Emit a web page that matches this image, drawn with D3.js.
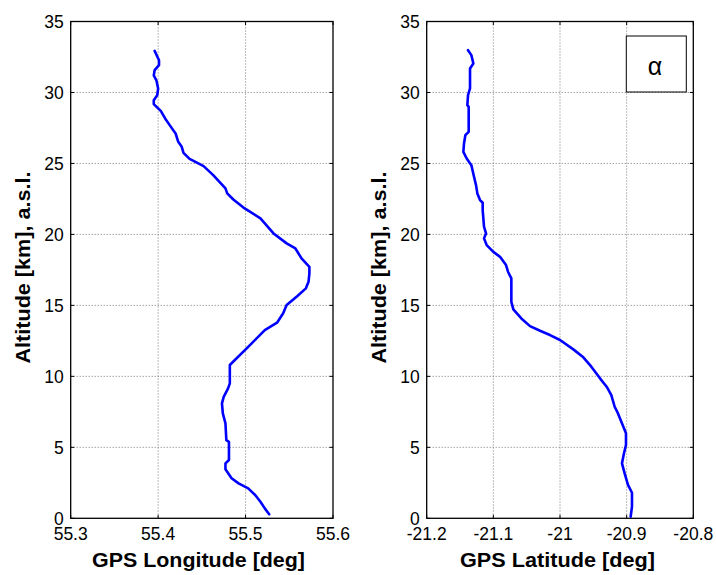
<!DOCTYPE html>
<html>
<head>
<meta charset="utf-8">
<script src="https://cdn.jsdelivr.net/npm/d3@7"></script>
<style>
  html, body { margin: 0; padding: 0; background: #fff; }
  svg { display: block; font-family: "Liberation Sans", Arial, sans-serif; }
</style>
</head>
<body>
<svg id="chart" width="716" height="575"></svg>
<script>
// Balloon GPS track: altitude (km) against longitude / latitude (deg)
const lonAlt = [32.93,32.27,31.92,31.57,31.2,30.86,30.28,29.81,29.46,29.18,28.7,28.17,27.63,27.11,26.52,26.17,25.75,25.32,24.81,24.18,23.24,22.89,22.46,21.83,21.13,20.07,19.37,19.01,18.31,17.72,17.25,16.66,16.2,15.65,15.02,14.44,13.78,13.26,12.2,10.8,9.51,9.15,8.56,8.1,7.39,6.69,5.51,5.39,4.11,3.87,3.45,2.82,2.46,2.11,1.64,1.17,0.7,0.28];
const lonDeg = [55.396,55.401,55.401,55.396,55.395,55.398,55.400,55.399,55.395,55.395,55.403,55.408,55.414,55.420,55.423,55.427,55.429,55.436,55.452,55.463,55.477,55.479,55.486,55.499,55.517,55.532,55.547,55.557,55.564,55.573,55.573,55.572,55.569,55.559,55.547,55.543,55.536,55.522,55.505,55.482,55.482,55.480,55.475,55.473,55.474,55.477,55.478,55.481,55.481,55.477,55.477,55.484,55.492,55.503,55.511,55.517,55.522,55.527];

const latAlt = [32.98,32.63,32.04,31.69,30.28,29.81,29.11,28.99,27.23,26.99,26.41,25.82,25.35,24.88,24.06,23.47,22.89,22.42,22.23,21.71,20.54,20.07,19.72,19.25,18.77,18.42,17.84,17.37,16.9,15.25,14.72,14.08,13.54,13.21,12.91,12.56,11.9,11.34,10.68,9.86,9.27,8.68,7.86,7.39,6.57,5.99,5.16,4.58,3.87,3.17,2.35,1.8,0.82,0.11];
const latDeg = [-21.138,-21.133,-21.130,-21.135,-21.135,-21.138,-21.139,-21.137,-21.137,-21.142,-21.144,-21.145,-21.140,-21.133,-21.129,-21.126,-21.124,-21.120,-21.116,-21.116,-21.114,-21.111,-21.114,-21.110,-21.100,-21.090,-21.081,-21.078,-21.073,-21.073,-21.070,-21.058,-21.045,-21.030,-21.015,-21.000,-20.980,-20.965,-20.953,-20.940,-20.930,-20.923,-20.918,-20.913,-20.906,-20.901,-20.901,-20.904,-20.907,-20.903,-20.898,-20.892,-20.892,-20.894];

const altTicks = [0,5,10,15,20,25,30,35];
const lonTicks = [55.3,55.4,55.5,55.6];
const latTicks = [-21.2,-21.1,-21.0,-20.9,-20.8];
const lonTickLabels = ["55.3","55.4","55.5","55.6"];
const latTickLabels = ["-21.2","-21.1","-21","-20.9","-20.8"];

const svg = d3.select("#chart");
const plotTop = 21.5, plotBottom = 518.3;

function panel(opts) {
  const x = d3.scaleLinear().domain(opts.xDomain).range([opts.left, opts.right]);
  const y = d3.scaleLinear().domain([0, 35]).range([plotBottom, plotTop]);
  const g = svg.append("g");

  // dotted grid
  g.append("g").selectAll("line").data(opts.xTicks.slice(1, -1)).join("line")
    .attr("x1", d => x(d)).attr("x2", d => x(d))
    .attr("y1", plotTop).attr("y2", plotBottom)
    .attr("stroke", "#666").attr("stroke-width", 0.9).attr("stroke-dasharray", "1,2");
  g.append("g").selectAll("line").data(altTicks.slice(1, -1)).join("line")
    .attr("x1", opts.left).attr("x2", opts.right)
    .attr("y1", d => y(d)).attr("y2", d => y(d))
    .attr("stroke", "#666").attr("stroke-width", 0.9).attr("stroke-dasharray", "1,2");

  // inward tick marks on all four sides
  const tl = 3.5;
  const tk = g.append("g").attr("stroke", "#000").attr("stroke-width", 1);
  opts.xTicks.forEach(d => {
    tk.append("line").attr("x1", x(d)).attr("x2", x(d)).attr("y1", plotBottom).attr("y2", plotBottom - tl);
    tk.append("line").attr("x1", x(d)).attr("x2", x(d)).attr("y1", plotTop).attr("y2", plotTop + tl);
  });
  altTicks.forEach(d => {
    tk.append("line").attr("x1", opts.left).attr("x2", opts.left + tl).attr("y1", y(d)).attr("y2", y(d));
    tk.append("line").attr("x1", opts.right).attr("x2", opts.right - tl).attr("y1", y(d)).attr("y2", y(d));
  });

  // frame
  g.append("rect").attr("x", opts.left).attr("y", plotTop)
    .attr("width", opts.right - opts.left).attr("height", plotBottom - plotTop)
    .attr("fill", "none").attr("stroke", "#000").attr("stroke-width", 1.3);

  // track line
  const pts = opts.alt.map((a, i) => [opts.deg[i], a]);
  g.append("path").datum(pts)
    .attr("fill", "none").attr("stroke", "#0000ff").attr("stroke-width", 2.6)
    .attr("stroke-linejoin", "round").attr("stroke-linecap", "round")
    .attr("d", d3.line().x(d => x(d[0])).y(d => y(d[1])));

  // tick labels
  g.append("g").selectAll("text").data(opts.xTicks).join("text")
    .attr("x", d => x(d)).attr("y", 540)
    .attr("text-anchor", "middle").attr("font-size", 17.5)
    .text((d, i) => opts.xLabels[i]);
  g.append("g").selectAll("text").data(altTicks).join("text")
    .attr("x", opts.left - 7).attr("y", d => y(d) + 6.3)
    .attr("text-anchor", "end").attr("font-size", 17.5)
    .text(d => d);

  // axis titles
  g.append("text").attr("x", opts.xTitleX).attr("y", 567)
    .attr("text-anchor", "middle").attr("font-size", 20.5).attr("font-weight", "bold")
    .attr("textLength", opts.xTitleLen).attr("lengthAdjust", "spacingAndGlyphs")
    .text(opts.xTitle);
  g.append("text")
    .attr("transform", `translate(${opts.yTitleX},267.5) rotate(-90)`)
    .attr("text-anchor", "middle").attr("font-size", 20).attr("font-weight", "bold")
    .attr("textLength", 192).attr("lengthAdjust", "spacingAndGlyphs")
    .text("Altitude [km], a.s.l.");
  return { x, y, g };
}

panel({ left: 70.7, right: 333, xDomain: [55.3, 55.6], xTicks: lonTicks, xLabels: lonTickLabels,
        alt: lonAlt, deg: lonDeg, xTitle: "GPS Longitude [deg]", xTitleX: 198.5, xTitleLen: 213, yTitleX: 30 });
const p2 = panel({ left: 426.7, right: 693.3, xDomain: [-21.2, -20.8], xTicks: latTicks, xLabels: latTickLabels,
        alt: latAlt, deg: latDeg, xTitle: "GPS Latitude [deg]", xTitleX: 557.5, xTitleLen: 195, yTitleX: 386 });

// panel tag box
p2.g.append("rect").attr("x", 626.3).attr("y", 36).attr("width", 60).attr("height", 56)
  .attr("fill", "#fff").attr("stroke", "#000").attr("stroke-width", 1);
p2.g.append("text").attr("x", 655).attr("y", 75).attr("text-anchor", "middle")
  .attr("font-size", 25).text("α");
</script>
</body>
</html>
